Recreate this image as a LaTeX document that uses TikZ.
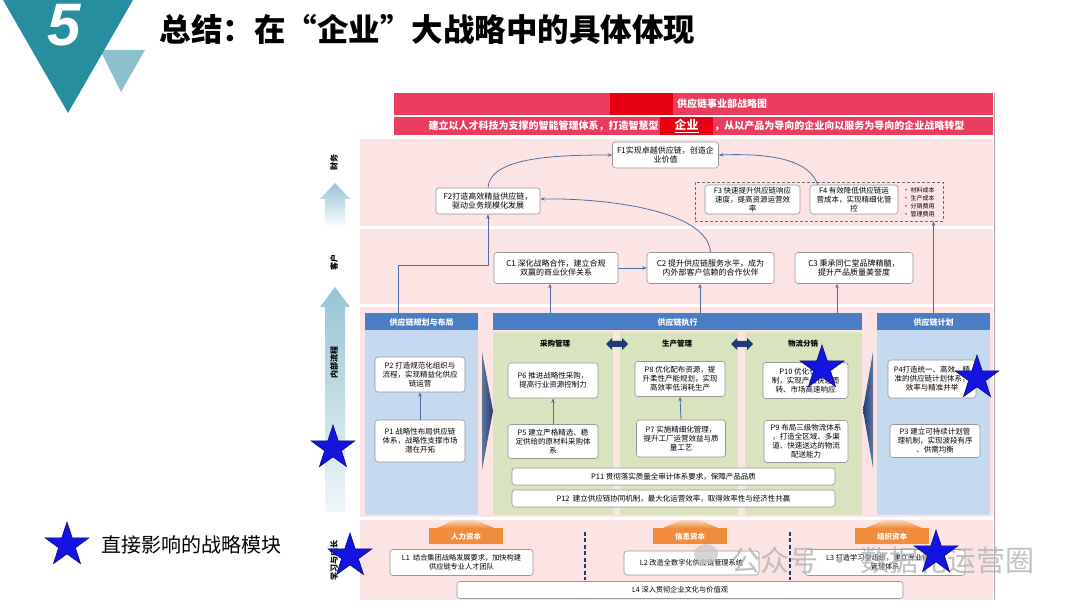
\documentclass[tikz,border=0pt]{standalone}
\usepackage{fontspec}
\setmainfont{Noto Sans CJK SC}
\newfontfamily\numfont{Liberation Sans}
\usetikzlibrary{shapes.geometric,arrows.meta,calc}
\definecolor{bannerred}{RGB}{234,60,92}
\definecolor{deepred}{RGB}{230,0,18}
\definecolor{pinkbg}{RGB}{252,228,228}
\definecolor{hdrblue}{RGB}{74,126,196}
\definecolor{panelblue}{RGB}{197,217,240}
\definecolor{panelgreen}{RGB}{216,228,190}
\definecolor{boxgray}{RGB}{150,150,150}
\definecolor{conncol}{RGB}{80,110,165}
\definecolor{navy}{RGB}{30,60,115}
\definecolor{tealdark}{RGB}{38,142,158}
\definecolor{teallight}{RGB}{140,192,204}
\definecolor{orangec}{RGB}{240,140,60}
\definecolor{axisblue}{RGB}{150,196,212}
\definecolor{starblue}{RGB}{20,20,225}
\newcommand\bxf{\fontsize{7.5}{9}\selectfont}
\newcommand\bxfb{\fontsize{8}{9.6}\selectfont}
\begin{document}
\begin{tikzpicture}[x=1pt,y=-1pt,
  box/.style={draw=boxgray, fill=white, rounded corners=3pt, line width=0.6pt, align=center, font=\bxf, inner sep=0pt},
  fbox/.style={box, font=\bxfb},
  hdr/.style={fill=hdrblue, text=white, font=\fontsize{8}{9}\selectfont\bfseries, inner sep=0pt, minimum height=17pt},
  obox/.style={fill=orangec, text=white, font=\fontsize{7.5}{9}\selectfont\bfseries, inner sep=0pt, minimum width=74pt, minimum height=16pt},
  conn/.style={draw=conncol, line width=0.8pt, -{Stealth[length=4.5pt,width=3.5pt]}},
  axislbl/.style={rotate=90, font=\fontsize{8}{9}\selectfont\bfseries},
  colhdr/.style={font=\fontsize{7.5}{9}\selectfont\bfseries},
  impstar/.style={star, star points=5, star point ratio=2.6, minimum size=46pt, inner sep=0pt, fill=starblue, draw=starblue!55!black, line width=0.6pt}
]
\useasboundingbox (0,0) rectangle (1080,609);
\fill[white] (0,0) rectangle (1080,609);

% ---- top-left emblem and title
\fill[teallight] (100,50) -- (145,50) -- (121,92) -- cycle;
\fill[tealdark] (3,0) -- (133,0) -- (68,113) -- cycle;
\node[font=\numfont\fontsize{60}{60}\selectfont\bfseries\itshape, text=white] (num) at (64,25) {5};
\node[anchor=west, font=\fontsize{31.5}{33}\selectfont\bfseries] (title) at (156,29) {总结：在“企业”大战略中的具体体现};

% ---- banner
\fill[bannerred] (394,93) rectangle (993,115);
\fill[bannerred] (394,117) rectangle (993,135);
\fill[deepred] (610,93) rectangle (673,115);
\node[text=white, font=\fontsize{10}{11}\selectfont\bfseries] (bt1) at (722,104) {供应链事业部战略图};
\node[fill=deepred, minimum width=53pt, minimum height=18pt, inner sep=0pt, text=white, font=\fontsize{12}{13}\selectfont\bfseries] (qy) at (686.5,126) {\underline{企业}};
\node[anchor=east, text=white, font=\fontsize{10}{11}\selectfont\bfseries, inner sep=1pt] (bt2) at (qy.west) {建立以人才科技为支撑的智能管理体系，打造智慧型};
\node[anchor=west, text=white, font=\fontsize{10}{11}\selectfont\bfseries, inner sep=1pt] (bt3) at (qy.east) {，从以产品为导向的企业向以服务为导向的企业战略转型};

% ---- row backgrounds
\fill[pinkbg] (360,139) rectangle (993,226);
\fill[pinkbg] (360,229) rectangle (993,304);
\fill[pinkbg] (360,307) rectangle (993,517);
\fill[pinkbg] (360,520) rectangle (993,600);
\draw[gray!70, line width=0.8pt] (994,93) -- (994,600);

% ---- left axis
\shade[top color=axisblue, bottom color=white] (335,183) -- (350,199) -- (345,199) -- (345,228) -- (325,228) -- (325,199) -- (320,199) -- cycle;
\shade[top color=axisblue, bottom color=axisblue!15] (335,287) -- (350,307) -- (345,307) -- (345,512) -- (325,512) -- (325,307) -- (320,307) -- cycle;
\node[axislbl] (lfin) at (334,163) {财务};
\node[axislbl] (lcus) at (334,263) {客户};
\node[axislbl] (lint) at (334,363) {内部流程};
\node[axislbl] (llrn) at (334,560) {学习与成长};

% ---- finance row
\node[fbox, minimum width=106pt, minimum height=26pt] (f1) at (665.5,155) {F1实现卓越供应链，创造企\\业价值};
\node[fbox, minimum width=104pt, minimum height=26pt] (f2) at (488,201) {F2打造高效精益供应链，\\驱动业务规模化发展};
\node[draw=gray!85!black, dash pattern=on 3pt off 2pt, line width=0.9pt, minimum width=248pt, minimum height=39pt, inner sep=0pt] (fgrp) at (819,201.5) {};
\node[box, minimum width=95pt, minimum height=29pt] (f3) at (752.5,199.5) {F3 快速提升供应链响应\\速度，提高资源运营效\\率};
\node[box, minimum width=88pt, minimum height=29pt] (f4) at (854,199.5) {F4 有效降低供应链运\\营成本，实现精细化管\\控};
\node[anchor=west, align=left, font=\fontsize{6}{8}\selectfont, inner sep=0pt] (fbul) at (903,202) {• 材料成本\\• 生产成本\\• 分销费用\\• 管理费用};

% ---- customer row
\node[fbox, minimum width=124pt, minimum height=31pt] (c1) at (556,268) {C1 深化战略合作，建立合规\\双赢的商业伙伴关系};
\node[fbox, minimum width=127pt, minimum height=31pt] (c2) at (710.5,268) {C2 提升供应链服务水平，成为\\内外部客户信赖的合作伙伴};
\node[fbox, minimum width=118pt, minimum height=31pt] (c3) at (854,268) {C3 秉承同仁堂品牌精髓，\\提升产品质量美誉度};

% ---- internal process panels
\fill[panelblue] (365,330) rectangle (478,515);
\node[hdr, minimum width=113pt] (planh) at (421.5,322) {供应链规划与布局};
\fill[panelgreen] (493,332) rectangle (613,515);
\fill[panelgreen] (620,332) rectangle (738,515);
\fill[panelgreen] (745,332) rectangle (862,515);
\node[hdr, minimum width=369pt] (exech) at (677.5,322) {供应链执行};
\fill[panelblue] (877,330) rectangle (990,515);
\node[hdr, minimum width=113pt] (calch) at (933.5,322) {供应链计划};

\shade[left color=navy!70, right color=navy] (482,352) -- (493,411) -- (482,470) -- cycle;
\shade[left color=navy, right color=navy!70] (873,352) -- (863,410) -- (873,468) -- cycle;

\node[colhdr] (cg) at (555,344) {采购管理};
\node[colhdr] (sc) at (677,344) {生产管理};
\node[colhdr] (wl) at (803,344) {物流分销};
\fill[navy] (606,344) -- (612,338) -- (612,341) -- (622,341) -- (622,338) -- (628,344) -- (622,350) -- (622,347) -- (612,347) -- (612,350) -- cycle;
\fill[navy] (731,344) -- (737,338) -- (737,341) -- (747,341) -- (747,338) -- (753,344) -- (747,350) -- (747,347) -- (737,347) -- (737,350) -- cycle;

\node[box, minimum width=90pt, minimum height=35pt] (p2) at (420,374.5) {P2 打造规范化组织与\\流程，实现精益化供应\\链运营};
\node[box, minimum width=90pt, minimum height=42pt] (p1) at (420,441) {P1 战略性布局供应链\\体系，战略性支撑市场\\潜在开拓};
\node[box, minimum width=90pt, minimum height=35pt] (p6) at (553,380.5) {P6 推进战略性采购，\\提高行业资源控制力};
\node[box, minimum width=90pt, minimum height=34pt] (p5) at (553,441.5) {P5 建立严格精选、稳\\定供给的原材料采购体\\系};
\node[box, minimum width=90pt, minimum height=35pt] (p8) at (680,379) {P8 优化配布资源，提\\升柔性产能规划，实现\\高效率低消耗生产};
\node[box, minimum width=89pt, minimum height=37pt] (p7) at (681,438.5) {P7 实施精细化管理，\\提升工厂运营效益与质\\量工艺};
\node[box, minimum width=85pt, minimum height=36pt] (p10) at (805.5,380.5) {P10 优化仓储机\\制，实现产品快速周\\转、市场高速响应};
\node[box, minimum width=84pt, minimum height=42pt] (p9) at (806,441.5) {P9 布局三级物流体系\\，打造全区域、多渠\\道、快速送达的物流\\配送能力};
\node[box, minimum width=88pt, minimum height=38pt] (p4) at (932,379) {P4打造统一、高效、精\\准的供应链计划体系，\\效率与精准并举};
\node[box, minimum width=90pt, minimum height=33pt] (p3) at (935,441) {P3 建立可持续计划管\\理机制，实现波段有序\\、供需均衡};
\node[box, minimum width=323pt, minimum height=17pt] (p11) at (673.5,476.5) {P11 贯彻落实质量全审计体系要求，保障产品品质};
\node[box, minimum width=323pt, minimum height=17pt] (p12) at (673.5,498.5) {P12\ \ 建立供应链协同机制，最大化运营效率，取得效率性与经济性共赢};

% ---- learning row
\shade[top color=orangec!35, bottom color=orangec] (437,528) -- (455,520) -- (476,520) -- (494,528) -- cycle;
\shade[top color=orangec!35, bottom color=orangec] (663,528) -- (681,520) -- (700,520) -- (718,528) -- cycle;
\shade[top color=orangec!35, bottom color=orangec] (866,528) -- (884,520) -- (904,520) -- (922,528) -- cycle;
\node[obox] (hum) at (466,536.5) {人力资本};
\node[obox] (inf) at (690,536.5) {信息资本};
\node[obox] (org) at (892,536.5) {组织资本};
\draw[navy, line width=1.5pt, dash pattern=on 4pt off 2.5pt] (585,532) -- (585,580);
\draw[navy, line width=1.5pt, dash pattern=on 4pt off 2.5pt] (790,532) -- (790,580);
\node[box, font=\fontsize{7.2}{8.8}\selectfont, minimum width=143pt, minimum height=26pt] (l1) at (461.5,562.5) {L1\ \ 结合集团战略发展要求，加快构建\\供应链专业人才团队};
\node[box, font=\fontsize{7.2}{8.8}\selectfont, minimum width=135pt, minimum height=24pt] (l2) at (691.5,563) {L2 改造全数字化供应链管理系统};
\node[box, font=\fontsize{7.2}{8.8}\selectfont, minimum width=160pt, minimum height=26pt] (l3) at (885,562.5) {L3 打造学习型组织，建立专业化知识\\管理体系};
\node[box, font=\fontsize{7.2}{8.8}\selectfont, minimum width=446pt, minimum height=17pt] (l4) at (680,590) {L4 深入贯彻企业文化与价值观};

% ---- connectors
\draw[conn] (f2.north) .. controls ($(f2.north)+(2,-30)$) and ($(f1.west)+(-60,0)$) .. (f1.west);
\coordinate (f4top) at ($(f4.north west)+(8,0)$);
\draw[conn] (f4top) .. controls ($(f4top)+(-8,-24)$) and ($(f1.east)+(55,-2)$) .. (f1.east);
\draw[conn] (c2.north) .. controls ($(c2.north)+(-3,-42)$) and ($(f2.east)+(65,-3)$) .. ([yshift=2pt]f2.east);
\draw[conn] (c1.east) -- (c2.west);
\draw[conn] (exech.north -| 550,0) -- (550,0 |- c1.south);
\draw[conn] (exech.north -| 700,0) -- (700,0 |- c2.south);
\draw[conn] (exech.north -| 837,0) -- (837,0 |- c3.south);
\coordinate (k1) at (398,265);
\draw[conn] (planh.north -| k1) -- (k1) -- (k1 -| f2.south) -- (f2.south);
\draw[conn] (calch.north) -- (calch.north |- fgrp.south);
\draw[conn] (p1.north) -- (p2.south);
\draw[conn] (p5.north) -- (p6.south);
\draw[conn] (p7.north) -- (p8.south);

% ---- watermark
\fill[gray!45, opacity=0.7] (706,554) ellipse (12 and 10);
\node[anchor=west, text=gray!60, opacity=0.8, font=\fontsize{29}{30}\selectfont] (wm) at (728,560) {公众号 · 数据化运营圈};

% ---- stars and legend
\node[impstar] (s1) at (333,448) {};
\node[impstar] (s2) at (350,556) {};
\node[impstar] (s3) at (822,368) {};
\node[impstar] (s4) at (977,378) {};
\node[impstar] (s5) at (936,553) {};
\node[impstar] (ls) at (67,545) {};
\node[anchor=west, font=\fontsize{20}{22}\selectfont] (lt) at (98,545) {直接影响的战略模块};
\end{tikzpicture}
\end{document}
